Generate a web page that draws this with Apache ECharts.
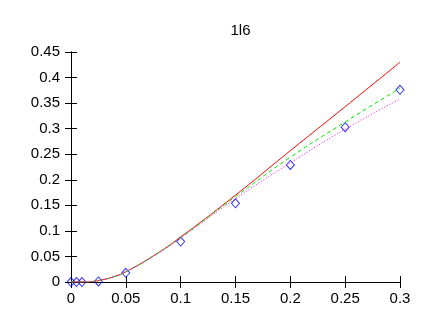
<!DOCTYPE html>
<html><head><meta charset="utf-8">
<script src="https://cdn.jsdelivr.net/npm/echarts@6/dist/echarts.min.js"></script>
<style>html,body{margin:0;padding:0;background:#fff}#c{width:429px;height:317px}</style>
</head><body><div id="c"></div>
<script>
const titleText = '1l6';
const pointX = [0, 0.005, 0.01, 0.025, 0.05, 0.1, 0.15, 0.2, 0.25, 0.3];
const pointY = [0, 0, 0, 0.001, 0.018, 0.079, 0.154, 0.229, 0.303, 0.376];
const lineX = [0, 0.01, 0.015, 0.02, 0.03, 0.04, 0.05, 0.075, 0.1, 0.15, 0.2, 0.25, 0.3];
const redY = [0, 0, 0, 0.001, 0.005, 0.011, 0.02, 0.051, 0.088, 0.170, 0.257, 0.343, 0.430];
const greenY = [0, 0, 0, 0.001, 0.005, 0.011, 0.02, 0.051, 0.087, 0.167, 0.244, 0.313, 0.379];
const magentaY = [0, 0, 0, 0.001, 0.005, 0.011, 0.02, 0.050, 0.086, 0.163, 0.233, 0.299, 0.358];

const zip = (xs, ys) => xs.map((x, i) => [x, ys[i]]);
const font = 'Liberation Sans, Arial, sans-serif';
const chart = echarts.init(document.getElementById('c'), null, {renderer: 'canvas'});
const axLine = {show: true, lineStyle: {color: '#000', width: 1}};
const tick = {show: true, inside: true, length: 6, lineStyle: {color: '#000', width: 1}};
chart.setOption({
  animation: false,
  backgroundColor: '#fff',
  title: {text: titleText, left: 235.5, textAlign: 'center', top: 18, textStyle: {fontFamily: font, fontSize: 15, fontWeight: 'normal', color: '#000'}},
  grid: {left: 71, right: 29, top: 52, bottom: 35},
  xAxis: [
    {type: 'value', min: 0, max: 0.3, interval: 0.05, position: 'bottom', axisLine: axLine, axisTick: tick, splitLine: {show: false},
     axisLabel: {color: '#000', fontFamily: font, fontSize: 15, margin: 9, formatter: v => String(+v.toFixed(2))}},
    {type: 'value', min: 0, max: 0.3, interval: 0.05, position: 'top', axisLine: axLine, axisTick: tick, splitLine: {show: false}, axisLabel: {show: false}}
  ],
  yAxis: [
    {type: 'value', min: 0, max: 0.45, interval: 0.05, position: 'left', axisLine: axLine, axisTick: tick, splitLine: {show: false},
     axisLabel: {color: '#000', fontFamily: font, fontSize: 15, margin: 11, formatter: v => String(+v.toFixed(2))}},
    {type: 'value', min: 0, max: 0.45, interval: 0.05, position: 'right', axisLine: axLine, axisTick: tick, splitLine: {show: false}, axisLabel: {show: false}}
  ],
  series: [
    {type: 'line', data: zip(lineX, redY), smooth: true, showSymbol: false, lineStyle: {color: '#ff0000', width: 1}},
    {type: 'line', data: zip(lineX, greenY), smooth: true, showSymbol: false, lineStyle: {color: '#00ee00', width: 1, type: [4, 3]}},
    {type: 'line', data: zip(lineX, magentaY), smooth: true, showSymbol: false, lineStyle: {color: '#ff00ff', width: 1, type: [1, 2]}},
    {type: 'scatter', data: zip(pointX, pointY), symbol: 'diamond', symbolSize: [8, 9],
     itemStyle: {color: 'rgba(0,0,0,0)', borderColor: '#0000ff', borderWidth: 1}}
  ]
});
</script></body></html>
